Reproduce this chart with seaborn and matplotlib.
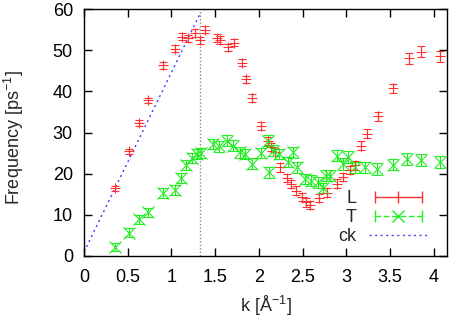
import numpy as np
import pandas as pd
import seaborn as sns
from matplotlib import pyplot as plt
from matplotlib.lines import Line2D
from matplotlib.legend_handler import HandlerLine2D, HandlerTuple

# longitudinal branch (L)
l_k = [0.35, 0.51, 0.63, 0.73, 0.90, 1.04, 1.12, 1.19, 1.27, 1.33, 1.38,
       1.52, 1.55, 1.65, 1.71, 1.81, 1.85, 1.92, 2.02, 2.10, 2.14, 2.18,
       2.24, 2.32, 2.37, 2.42, 2.49, 2.54, 2.58, 2.69, 2.78, 2.89, 2.96,
       3.04, 3.10, 3.17, 3.23, 3.36, 3.53, 3.71, 3.85, 4.07]
l_freq = [16.4, 25.4, 32.3, 37.8, 46.3, 50.4, 53.3, 52.9, 54.2, 52.4, 55.0,
          53.0, 52.5, 50.7, 51.8, 47.0, 42.9, 38.4, 31.6, 27.9, 26.4, 25.2,
          21.5, 19.0, 17.5, 15.9, 14.4, 13.0, 12.4, 14.0, 15.4, 17.6, 19.1,
          20.9, 22.0, 26.8, 29.7, 33.9, 40.7, 48.0, 49.6, 48.5]
l_err = [0.6, 0.6, 0.7, 0.7, 0.8, 0.8, 0.9, 0.9, 0.9, 0.9, 0.9,
         0.9, 0.9, 0.9, 0.9, 0.9, 0.9, 0.9, 1.0, 1.0, 1.0, 1.0,
         1.0, 1.0, 1.0, 1.0, 1.0, 1.0, 1.0, 1.0, 1.0, 1.0, 1.0,
         1.0, 1.0, 1.1, 1.1, 1.2, 1.2, 1.3, 1.3, 1.3]

# transverse branch (T)
t_k = [0.36, 0.51, 0.63, 0.73, 0.90, 1.04, 1.11, 1.17, 1.24, 1.29, 1.34,
       1.48, 1.54, 1.63, 1.70, 1.78, 1.84, 1.92, 2.02, 2.10, 2.12, 2.16,
       2.23, 2.33, 2.39, 2.44, 2.53, 2.60, 2.68, 2.73, 2.77, 2.81, 2.89,
       2.96, 3.02, 3.10, 3.21, 3.35, 3.53, 3.69, 3.85, 4.07]
t_freq = [2.2, 5.7, 8.9, 10.6, 15.4, 16.0, 19.0, 22.0, 23.8, 24.8, 25.1,
          27.2, 26.6, 28.0, 26.8, 25.2, 24.8, 22.4, 25.0, 28.0, 20.3, 25.6,
          24.8, 22.8, 25.2, 21.5, 18.7, 18.3, 17.9, 16.5, 19.5, 19.5, 24.4,
          22.4, 24.0, 21.5, 21.5, 21.1, 22.2, 23.6, 23.3, 22.8]
t_err = [1.0, 1.0, 1.1, 1.1, 1.2, 1.2, 1.2, 1.2, 1.2, 1.2, 1.2,
         1.3, 1.3, 1.3, 1.3, 1.3, 1.3, 1.3, 1.3, 1.3, 1.3, 1.3,
         1.3, 1.3, 1.3, 1.3, 1.3, 1.3, 1.3, 1.3, 1.3, 1.3, 1.4,
         1.4, 1.4, 1.4, 1.4, 1.4, 1.4, 1.5, 1.5, 1.5]

# sound line c*k
ck_k = [0.0, 1.33]
ck_freq = [1.0, 59.0]

vline_k = 1.33

red = "#ff3030"
green = "#20ee20"
blue = "#4040ff"

sns.set_style("ticks")
plt.rcParams["font.family"] = ["Liberation Sans", "DejaVu Sans"]
plt.rcParams["mathtext.fontset"] = "custom"
plt.rcParams["mathtext.rm"] = "Liberation Sans"
plt.rcParams["mathtext.it"] = "Liberation Sans:italic"

fs = 13
fig = plt.figure(figsize=(4.54, 3.2), dpi=100)
ax = fig.add_axes([84 / 454, 64 / 320, 363 / 454, 247 / 320])

ax.errorbar(l_k, l_freq, yerr=l_err, fmt="+", color=red, ms=7, mew=0.8,
            elinewidth=0.8, capsize=3, capthick=0.8, zorder=3)
ax.errorbar(t_k, t_freq, yerr=t_err, fmt="x", color=green, ms=8, mew=0.8,
            elinewidth=0.8, capsize=3.5, capthick=0.8, zorder=3)
ck_df = pd.DataFrame({"k": ck_k, "f": ck_freq})
sns.lineplot(data=ck_df, x="k", y="f", ax=ax, color=blue, lw=1,
             linestyle=(0, (1.5, 2.5)), legend=False)
ax.axvline(vline_k, color="#888888", lw=1, linestyle=(0, (1, 1.5)), zorder=1)

ax.set_xlim(0, 4.15)
ax.set_ylim(0, 60)
ax.set_xticks(np.arange(0, 4.01, 0.5))
ax.set_xticklabels(["0", "0.5", "1", "1.5", "2", "2.5", "3", "3.5", "4"])
ax.set_yticks(np.arange(0, 61, 10))
ax.tick_params(direction="in", length=5.5, width=1, top=True, right=True,
               labelsize=fs, pad=8, colors="black")
ax.tick_params(axis="x", pad=9)
for s in ax.spines.values():
    s.set_linewidth(1)
    s.set_color("black")

ax.set_xlabel(r"k [Å$^{\mathrm{-1}}$]", fontsize=fs, labelpad=6)
ax.set_ylabel(r"Frequency [ps$^{\mathrm{-1}}$]", fontsize=fs)
ax.yaxis.set_label_coords(-0.16, 0.48)

# gnuplot style legend keys
h_l = Line2D([], [], color=red, lw=1, marker="|", ms=8, mew=1)
h_t_line = Line2D([], [], color=green, lw=1, ls=(0, (4, 2)), marker="|", ms=8, mew=1)
h_t_mark = Line2D([], [], color=green, ls="none", marker="x", ms=8, mew=1)
h_ck = Line2D([], [], color=blue, lw=1, ls=(0, (1.5, 2.5)))
ax.legend([h_l, (h_t_line, h_t_mark), h_ck], ["L", "T", "ck"],
          handler_map={h_l: HandlerLine2D(numpoints=3),
                       h_t_line: HandlerLine2D(numpoints=2),
                       h_t_mark: HandlerLine2D(numpoints=1),
                       tuple: HandlerTuple(ndivide=1)},
          loc="lower right", markerfirst=False, frameon=False, fontsize=fs,
          handlelength=3.2, handletextpad=0.7, labelspacing=0.12,
          borderaxespad=0.2, bbox_to_anchor=(0.975, 0.0))

fig.savefig("out.png", dpi=100)
